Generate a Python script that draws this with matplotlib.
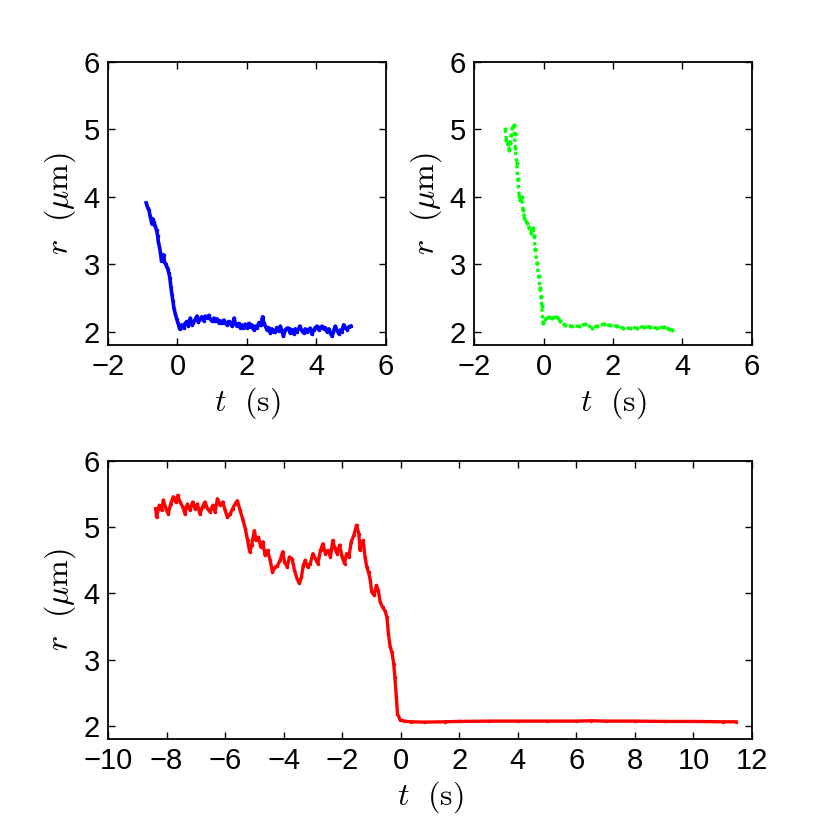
import matplotlib
matplotlib.use("Agg")
import matplotlib.pyplot as plt

plt.rcParams['font.family'] = ['Liberation Sans', 'DejaVu Sans']
plt.rcParams['mathtext.fontset'] = 'cm'

# ---------------- data ----------------
blue_t = [-0.90, -0.86, -0.82, -0.79, -0.76, -0.74, -0.71, -0.68, -0.64, -0.60,
          -0.57, -0.55, -0.52, -0.49, -0.46, -0.43, -0.40, -0.37, -0.34, -0.31,
          -0.28, -0.25, -0.22, -0.19, -0.16, -0.13, -0.10, -0.06, -0.02, 0.02,
          0.06, 0.10, 0.13, 0.18, 0.22, 0.27, 0.31, 0.37, 0.42, 0.46,
          0.51, 0.56, 0.60, 0.65, 0.70, 0.75, 0.80, 0.85, 0.90, 0.94,
          1.00, 1.05, 1.09, 1.14, 1.19, 1.23, 1.28, 1.33, 1.37, 1.42,
          1.47, 1.52, 1.57, 1.63, 1.67, 1.71, 1.76, 1.81, 1.85, 1.90,
          1.95, 2.00, 2.05, 2.10, 2.14, 2.19, 2.24, 2.29, 2.34, 2.39,
          2.45, 2.49, 2.53, 2.58, 2.62, 2.67, 2.72, 2.77, 2.81, 2.86,
          2.91, 2.96, 3.00, 3.05, 3.10, 3.15, 3.20, 3.24, 3.29, 3.34,
          3.39, 3.44, 3.52, 3.57, 3.63, 3.68, 3.73, 3.77, 3.82, 3.87,
          3.92, 3.97, 4.01, 4.06, 4.11, 4.16, 4.21, 4.25, 4.30, 4.35,
          4.40, 4.45, 4.49, 4.54, 4.59, 4.64, 4.68, 4.73, 4.78, 4.83,
          4.88, 4.93, 4.99]
blue_r = [3.91, 3.84, 3.80, 3.72, 3.66, 3.60, 3.67, 3.63, 3.56, 3.50,
          3.42, 3.33, 3.26, 3.17, 3.05, 3.10, 3.14, 3.02, 3.00, 2.96,
          2.93, 2.87, 2.80, 2.66, 2.55, 2.45, 2.34, 2.26, 2.18, 2.12,
          2.04, 2.08, 2.10, 2.05, 2.12, 2.15, 2.08, 2.20, 2.10, 2.13,
          2.18, 2.23, 2.14, 2.18, 2.22, 2.16, 2.23, 2.20, 2.24, 2.19,
          2.15, 2.20, 2.15, 2.19, 2.13, 2.16, 2.12, 2.17, 2.13, 2.10,
          2.15, 2.12, 2.08, 2.20, 2.11, 2.08, 2.12, 2.06, 2.10, 2.05,
          2.11, 2.05, 2.12, 2.07, 2.10, 2.03, 2.08, 2.05, 2.13, 2.09,
          2.22, 2.12, 2.08, 2.02, 2.06, 1.98, 2.04, 1.99, 2.00, 2.06,
          2.01, 2.08, 2.02, 1.93, 2.02, 2.05, 2.05, 1.98, 2.03, 1.97,
          2.04, 2.00, 2.08, 2.02, 1.98, 2.04, 2.00, 2.03, 2.05, 1.96,
          2.02, 2.06, 2.08, 2.03, 2.06, 2.08, 2.04, 2.06, 2.00, 2.04,
          1.98, 1.93, 2.00, 2.08, 2.02, 1.97, 2.02, 2.00, 2.10, 2.05,
          2.03, 2.07, 2.08]

green_t = [-1.10, -1.07, -1.03, -0.99, -0.96, -0.93, -0.89, -0.86, -0.83, -0.81,
           -0.77, -0.74, -0.70, -0.67, -0.63, -0.59, -0.55, -0.48, -0.41, -0.36,
           -0.31, -0.27, -0.24, -0.19, -0.14, -0.10, -0.07, -0.05, -0.02, 0.05,
           0.15, 0.24, 0.38, 0.48, 0.62, 0.82, 1.01, 1.20, 1.39, 1.54,
           1.73, 1.92, 2.11, 2.30, 2.50, 2.69, 2.88, 3.07, 3.26, 3.46,
           3.60, 3.70]
green_r = [5.00, 4.85, 4.78, 4.70, 4.80, 4.92, 5.05, 5.07, 4.93, 4.72,
           4.50, 4.26, 4.01, 3.96, 3.99, 3.81, 3.69, 3.61, 3.54, 3.47,
           3.54, 3.42, 3.22, 3.02, 2.82, 2.65, 2.52, 2.38, 2.13, 2.18,
           2.21, 2.20, 2.22, 2.16, 2.09, 2.08, 2.08, 2.11, 2.06, 2.08,
           2.11, 2.09, 2.08, 2.05, 2.05, 2.06, 2.07, 2.07, 2.05, 2.07,
           2.04, 2.03]

red_t = [-8.37, -8.34, -8.25, -8.17, -8.11, -8.02, -7.94, -7.86, -7.77, -7.69,
         -7.62, -7.54, -7.45, -7.37, -7.29, -7.20, -7.11, -7.03, -6.95, -6.86,
         -6.77, -6.69, -6.60, -6.51, -6.42, -6.34, -6.26, -6.17, -6.08, -6.00,
         -5.92, -5.83, -5.74, -5.66, -5.58, -5.49, -5.39, -5.31, -5.23, -5.16,
         -5.09, -5.00, -4.94, -4.86, -4.78, -4.71, -4.64, -4.55, -4.46, -4.38,
         -4.29, -4.21, -4.12, -4.03, -3.97, -3.88, -3.80, -3.71, -3.63, -3.54,
         -3.46, -3.39, -3.33, -3.26, -3.18, -3.09, -3.00, -2.91, -2.83, -2.74,
         -2.66, -2.57, -2.49, -2.40, -2.32, -2.25, -2.17, -2.09, -2.00, -1.92,
         -1.85, -1.77, -1.69, -1.60, -1.51, -1.43, -1.39, -1.34, -1.28, -1.22,
         -1.16, -1.10, -1.04, -0.99, -0.91, -0.83, -0.77, -0.70, -0.62, -0.54,
         -0.47, -0.42, -0.36, -0.30, -0.24, -0.20, -0.15, -0.11, -0.02, 0.12,
         0.34, 0.80, 1.50, 2.00, 3.00, 4.00, 5.00, 6.00, 6.50, 7.00,
         8.00, 9.00, 10.00, 11.00, 11.45]
red_r = [5.28, 5.15, 5.33, 5.26, 5.41, 5.28, 5.20, 5.35, 5.46, 5.38,
         5.48, 5.38, 5.31, 5.20, 5.35, 5.26, 5.38, 5.28, 5.35, 5.20,
         5.31, 5.38, 5.28, 5.23, 5.33, 5.23, 5.43, 5.33, 5.38, 5.26,
         5.15, 5.20, 5.28, 5.35, 5.40, 5.26, 5.11, 4.98, 4.80, 4.63,
         4.73, 4.95, 4.80, 4.85, 4.70, 4.78, 4.58, 4.65, 4.50, 4.32,
         4.40, 4.42, 4.50, 4.63, 4.48, 4.40, 4.55, 4.52, 4.35, 4.22,
         4.15, 4.25, 4.42, 4.50, 4.40, 4.45, 4.60, 4.52, 4.45, 4.65,
         4.75, 4.60, 4.65, 4.55, 4.80, 4.68, 4.60, 4.73, 4.55, 4.45,
         4.60, 4.55, 4.78, 4.88, 5.03, 4.90, 4.65, 4.78, 4.80, 4.55,
         4.40, 4.32, 4.20, 4.02, 3.97, 4.12, 4.05, 3.87, 3.79, 3.74,
         3.64, 3.39, 3.19, 3.11, 2.94, 2.74, 2.44, 2.18, 2.09, 2.07,
         2.06, 2.055, 2.06, 2.065, 2.07, 2.07, 2.07, 2.07, 2.075, 2.07,
         2.07, 2.065, 2.065, 2.06, 2.06]

top_xticks = [-2, 0, 2, 4, 6]
bottom_xticks = [-10, -8, -6, -4, -2, 0, 2, 4, 6, 8, 10, 12]
yticks = [2, 3, 4, 5, 6]

xlabel = r'$t\ \ (\mathrm{s})$'
ylabel = r'$r\ \ (\mu\mathrm{m})$'

# ---------------- figure ----------------
fig = plt.figure(figsize=(8.3, 8.32), dpi=100)
ax1 = fig.add_axes([0.1301, 0.5853, 0.3349, 0.3401])
ax2 = fig.add_axes([0.5711, 0.5853, 0.3349, 0.3401])
ax3 = fig.add_axes([0.1301, 0.1118, 0.7759, 0.3341])


def style(ax, xlim, xticks):
    ax.set_xlim(*xlim)
    ax.set_ylim(1.8, 6)
    ax.set_xticks(xticks)
    ax.set_yticks(yticks)
    ax.tick_params(direction='in', top=True, right=True, length=5, width=1,
                   labelsize=21, pad=6)
    for s in ax.spines.values():
        s.set_linewidth(1.3)
    ax.set_xlabel(xlabel, fontsize=23, labelpad=3)
    ax.set_ylabel(ylabel, fontsize=23, labelpad=4)


ax1.plot(blue_t, blue_r, color=(0, 0, 1), lw=2.6, marker='.', ms=3)
ax2.plot(green_t, green_r, color=(0, 1, 0), lw=2.4, marker='.', ms=4,
         ls=(0, (1, 1)))
ax3.plot(red_t, red_r, color=(1, 0, 0), lw=2.4, marker='.', ms=3)

style(ax1, (-2, 6), top_xticks)
style(ax2, (-2, 6), top_xticks)
style(ax3, (-10, 12), bottom_xticks)

fig.savefig('out.png', dpi=100)
